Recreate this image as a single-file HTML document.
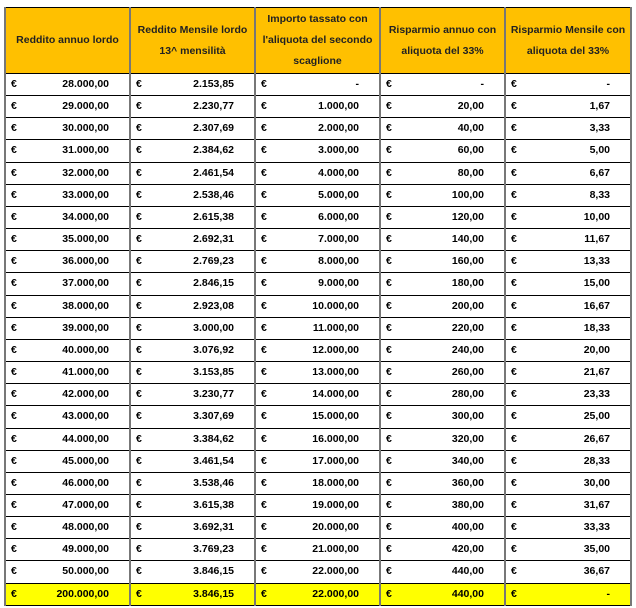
<!DOCTYPE html><html><head><style>
body{margin:0;background:#fff;width:636px;height:608px;overflow:hidden;font-family:"Liberation Sans",Arial,sans-serif}
table{position:absolute;left:4px;top:7px;border-collapse:collapse;table-layout:fixed;width:626px}
td,th{border:1px solid #000;border-left:2px solid #777;border-right:2px solid #777;font-size:10.5px;font-weight:bold;padding:0;height:21.17px}
th{background:#ffc000;height:65px;line-height:21px;font-weight:bold;color:#222}
td{position:relative}
td .e{position:absolute;left:5px;top:4px}
td .v{position:absolute;right:20px;top:4px}
tr.y td{background:#ffff00}
</style></head><body>
<table>
<colgroup><col style="width:125px"><col style="width:125px"><col style="width:125px"><col style="width:125px"><col style="width:126px"></colgroup>
<tr><th>Reddito annuo lordo</th><th>Reddito Mensile lordo<br>13^ mensilità</th><th>Importo tassato con<br>l'aliquota del secondo<br>scaglione</th><th>Risparmio annuo con<br>aliquota del 33%</th><th>Risparmio Mensile con<br>aliquota del 33%</th></tr>
<tbody id="b"></tbody>
</table>
<script>
var m=["2.153,85","2.230,77","2.307,69","2.384,62","2.461,54","2.538,46","2.615,38","2.692,31","2.769,23","2.846,15","2.923,08","3.000,00","3.076,92","3.153,85","3.230,77","3.307,69","3.384,62","3.461,54","3.538,46","3.615,38","3.692,31","3.769,23","3.846,15"];
var ms=["-","1,67","3,33","5,00","6,67","8,33","10,00","11,67","13,33","15,00","16,67","18,33","20,00","21,67","23,33","25,00","26,67","28,33","30,00","31,67","33,33","35,00","36,67"];
function c(v){return '<td><span class="e">€</span><span class="v">'+v+'</span></td>'}
var h='';
for(var i=0;i<23;i++){
var imp=i==0?"-":i+".000,00", ann=i==0?"-":(i*20)+",00";
h+='<tr>'+c((28+i)+".000,00")+c(m[i])+c(imp)+c(ann)+c(ms[i])+'</tr>';}
h+='<tr class="y">'+c("200.000,00")+c("3.846,15")+c("22.000,00")+c("440,00")+c("-")+'</tr>';
document.getElementById('b').innerHTML=h;
</script>
</body></html>
